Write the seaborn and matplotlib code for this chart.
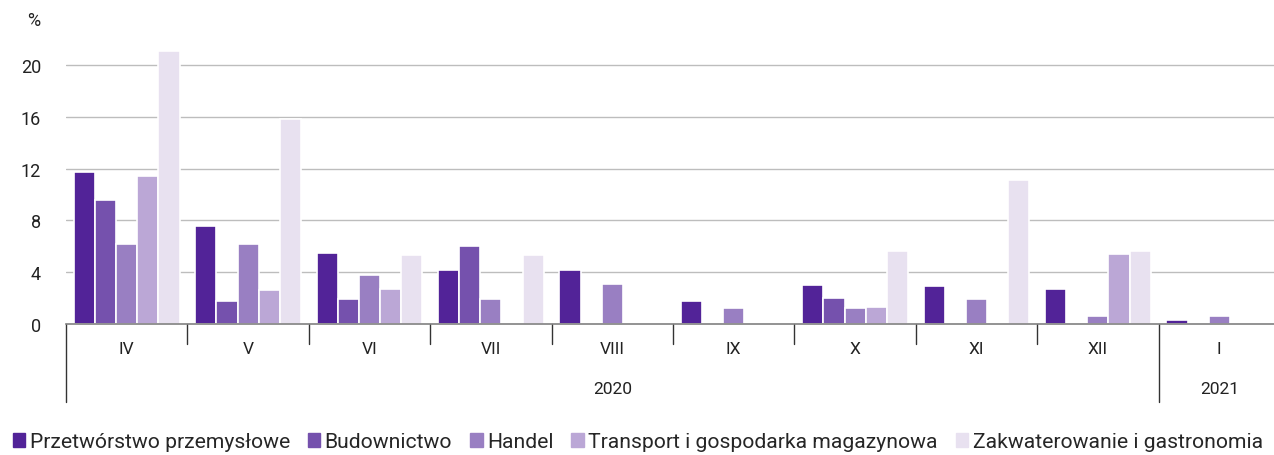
import pandas as pd
import matplotlib
matplotlib.use('Agg')
import matplotlib.pyplot as plt
import matplotlib.transforms as mtransforms
import seaborn as sns

months = ['IV', 'V', 'VI', 'VII', 'VIII', 'IX', 'X', 'XI', 'XII', 'I']
years = ['2020', '2021']
sectors = ['Przetwórstwo przemysłowe', 'Budownictwo', 'Handel',
           'Transport i gospodarka magazynowa', 'Zakwaterowanie i gastronomia']

przetworstwo = [11.7, 7.6, 5.5, 4.2, 4.2, 1.8, 3.0, 2.9, 2.7, 0.3]
budownictwo = [9.6, 1.8, 1.9, 6.0, 0.0, 0.0, 2.0, 0.0, 0.0, 0.0]
handel = [6.2, 6.2, 3.8, 1.9, 3.1, 1.2, 1.2, 1.9, 0.6, 0.6]
transport = [11.4, 2.6, 2.7, 0.0, 0.0, 0.0, 1.3, 0.0, 5.4, 0.0]
zakwaterowanie = [21.1, 15.8, 5.3, 5.3, 0.0, 0.0, 5.6, 11.1, 5.6, 0.0]

colors = ['#522398', '#7551ad', '#997fc2', '#bba7d6', '#e8e1f0']

series = [przetworstwo, budownictwo, handel, transport, zakwaterowanie]
rows = []
for name, vals in zip(sectors, series):
    for m, v in zip(months, vals):
        rows.append({'miesiac': m, 'sektor': name, 'wartosc': v})
df = pd.DataFrame(rows)

sns.set_theme(style='white')
plt.rcParams['font.family'] = ['Roboto', 'DejaVu Sans']

fig = plt.figure(figsize=(12.74, 4.56), dpi=100)
ax = fig.add_axes([66 / 1274, 131 / 456, 1214 / 1274, 285 / 456])

sns.barplot(data=df, x='miesiac', y='wartosc', hue='sektor', order=months,
            hue_order=sectors, palette=colors, width=0.87, errorbar=None,
            edgecolor='white', linewidth=1.2, saturation=1, ax=ax, zorder=2)

ax.set_xlim(-0.5, len(months) - 0.5)
ax.set_ylim(0, 22)
ax.set_yticks([0, 4, 8, 12, 16, 20])
ax.yaxis.grid(True, color='#bdbdbd', linewidth=1)
ax.get_ygridlines()[0].set_visible(False)
ax.set_axisbelow(True)
for s in ['top', 'right', 'left']:
    ax.spines[s].set_visible(False)
ax.spines['bottom'].set_color('#808080')
ax.spines['bottom'].set_linewidth(1.2)
ax.spines['bottom'].set_zorder(3)
ax.tick_params(axis='y', length=0, pad=18, labelsize=13, colors='#222222')
ax.set_xticks([])
ax.set_xlabel('')
ax.set_ylabel('')
ax.get_legend().remove()

fig.text(27 / 1274, 1 - 21 / 456, '%', fontsize=13, color='#222222', va='center')

# podpisy miesięcy i lat pod osią
trans = mtransforms.blended_transform_factory(ax.transData, ax.transAxes)
px = 1 / 285
for i in range(len(months) + 1):
    xb = i - 0.5
    depth = 78 if i in (0, 9) else 20
    ax.plot([xb, xb], [0, -depth * px], color='#333333', linewidth=1,
            transform=trans, clip_on=False)
for i, m in enumerate(months):
    ax.text(i, -25 * px, m, transform=trans, ha='center', va='center',
            fontsize=12.5, color='#222222')
ax.text(4.0, -65 * px, years[0], transform=trans, ha='center', va='center',
        fontsize=12.5, color='#222222')
ax.text(9.0, -65 * px, years[1], transform=trans, ha='center', va='center',
        fontsize=12.5, color='#222222')

handles = [plt.Rectangle((0, 0), 1, 1, color=c) for c in colors]
fig.legend(handles, sectors, loc='lower left', bbox_to_anchor=(0.0, -0.02),
           ncol=5, frameon=False, fontsize=15.2, handlelength=0.6,
           handleheight=0.7, handletextpad=0.2, columnspacing=0.85,
           borderaxespad=0.2)

fig.savefig('out.png', dpi=100)
